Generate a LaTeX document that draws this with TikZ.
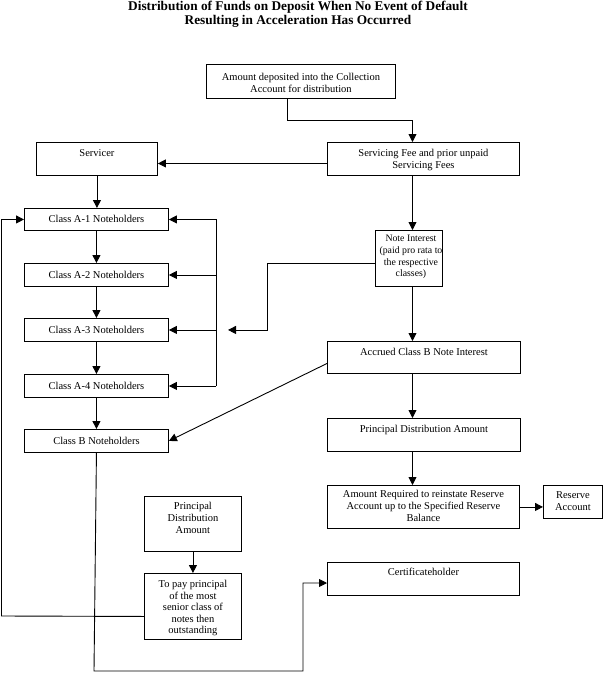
\documentclass[tikz,border=0pt]{standalone}
\usepackage{fontspec}
\setmainfont{Liberation Serif}
\usetikzlibrary{arrows.meta,calc}
\tikzset{
  box/.style={draw, line width=0.9pt, inner sep=0pt, anchor=north west,
    font=\fontsize{10.5}{11.6}\selectfont},
  conn/.style={line width=0.9pt},
  arr/.style={line width=0.9pt, -{Triangle[length=8pt,width=8pt]}},
}
\newcommand\bx[7]{\node[box] (#1) at (#2,#3) {\parbox[c][#5pt][t]{#4pt}{\centering\rule{0pt}{#6pt}#7}};}
\begin{document}
\begin{tikzpicture}[x=1pt,y=-1pt]
\useasboundingbox (0,0) rectangle (604,673);
\node[font=\fontsize{13.3}{14}\selectfont\bfseries, align=center] (title) at (298,14.5)
  {Distribution of Funds on Deposit When No Event of Default\\Resulting in Acceleration Has Occurred};
% boxes
\bx{top}{206}{64}{189}{34}{16}{Amount deposited into the Collection\\Account for distribution}
\bx{sf}{327}{142}{192}{33}{14.5}{Servicing Fee and prior unpaid\\Servicing Fees}
\bx{sv}{36}{142}{121}{33}{14.5}{Servicer}
\bx{a1}{24}{208}{144}{22}{14.5}{Class A-1 Noteholders}
\bx{a2}{24}{263}{144}{23}{15}{Class A-2 Noteholders}
\bx{a3}{24}{318}{144}{23}{15}{Class A-3 Noteholders}
\bx{a4}{24}{374}{144}{23}{15}{Class A-4 Noteholders}
\bx{cb}{24}{429}{144}{23}{15}{Class B Noteholders}
\node[box] (ni) at (375,230) {\parbox[c][56pt][t]{67pt}{\hspace*{4pt}\parbox[t]{63pt}{\centering\fontsize{9.8}{11.6}\selectfont\rule{0pt}{11.5pt}Note Interest\\(paid pro rata to\\the respective\\classes)}}};
\bx{acc}{327}{341}{193}{32}{14.5}{Accrued Class B Note Interest}
\bx{pda}{327}{418}{193}{33}{14.5}{Principal Distribution Amount}
\bx{arq}{327}{485}{192}{43}{12.5}{Amount Required to reinstate Reserve\\Account up to the Specified Reserve\\Balance}
\bx{res}{543}{485}{59}{33}{13.5}{Reserve\\Account}
\bx{cert}{327}{562}{192}{33}{13.5}{Certificateholder}
\bx{pdb}{144}{496}{97}{55}{13.5}{Principal\\Distribution\\Amount}
\bx{pay}{144}{573}{97}{66}{14}{To pay principal\\of the most\\senior class of\\notes then\\outstanding}
% helper coordinates
\coordinate (sp) at (412.5,0);
\coordinate (j1) at (412.5,120);
\coordinate (rsp) at (216,0);
\coordinate (k) at (267,0);
\coordinate (nf) at (228,0);
\coordinate (b1) at (94,671);
\coordinate (b2) at (303,583);
\coordinate (lp) at (1.5,616);
% connectors
\draw[arr] ([xshift=-13.5pt]top.south) |- (j1) -- (sf.north -| sp);
\draw[arr] ([yshift=-4.5pt]sf.west) -- ([yshift=-4.5pt]sv.east);
\draw[arr] (sv.south) -- (sv.south |- a1.north);
\draw[arr] (a1.south) -- (a2.north);
\draw[arr] (a2.south) -- (a3.north);
\draw[arr] (a3.south) -- (a4.north);
\draw[arr] (a4.south) -- (cb.north);
\draw[arr] (sf.south -| sp) -- (ni.north -| sp);
\draw[arr] (ni.south -| sp) -- (acc.north -| sp);
\draw[arr] (acc.south -| sp) -- (pda.north -| sp);
\draw[arr] (pda.south -| sp) -- (arq.north -| sp);
\draw[arr] (arq.east) -- (arq.east -| res.west);
\draw[conn] (a1.east -| rsp) -- (a4.east -| rsp);
\draw[arr] (a1.east -| rsp) -- (a1.east);
\draw[arr] (a2.east -| rsp) -- (a2.east);
\draw[arr] (a3.east -| rsp) -- (a3.east);
\draw[arr] (a4.east -| rsp) -- (a4.east);
\draw[arr] ([yshift=-5pt]ni.west) -| (a3.east -| k) -- (a3.east -| nf);
\draw[arr] ([yshift=-6pt]acc.west) -- (cb.east);
\draw[arr] (cb.south) -- (b1) -| (b2) -- (b2 -| cert.west);
\draw[arr] (pdb.south) -- (pay.north);
\draw[arr] ([yshift=-10pt]pay.west) -- (lp) |- (a1.west);
\end{tikzpicture}
\end{document}
